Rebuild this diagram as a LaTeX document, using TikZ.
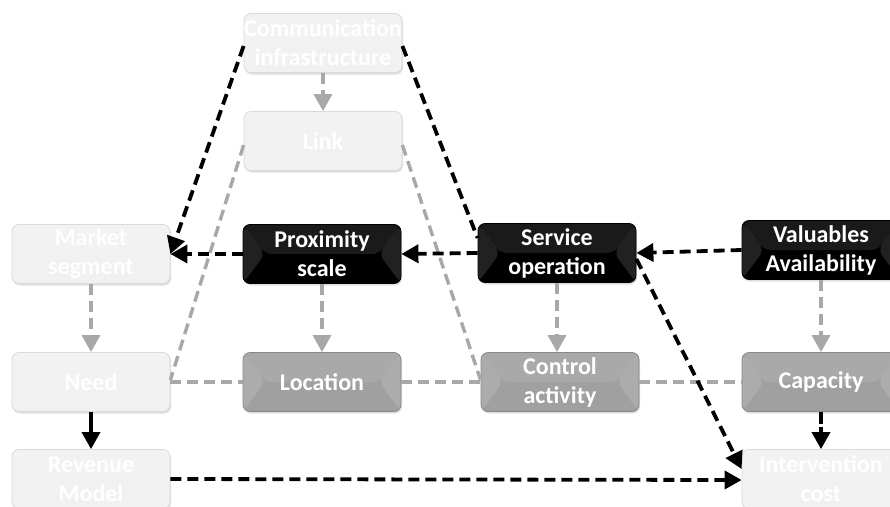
\documentclass[tikz,border=0pt]{standalone}
\usepackage{fontspec}
\setmainfont{Carlito}
\usetikzlibrary{arrows.meta,shadows}
\definecolor{lightfill}{HTML}{F1F1F1}
\definecolor{lightedge}{HTML}{DADADA}
\definecolor{midfill}{HTML}{A0A0A0}
\definecolor{midedge}{HTML}{888888}
\definecolor{grayline}{HTML}{A8A8A8}
\tikzset{
  box/.style={rounded corners=7pt, minimum width=158pt, minimum height=59pt,
    align=center, text=white, font=\bfseries\fontsize{24}{29}\selectfont,
    inner sep=0pt, line width=0.8pt,
    drop shadow={shadow xshift=1pt,shadow yshift=-2pt,opacity=0.25},
    path picture={
      \fill[white,opacity=.13] (path picture bounding box.north west) -- ([xshift=22pt]path picture bounding box.west) -- (path picture bounding box.south west) -- cycle;
      \fill[white,opacity=.13] (path picture bounding box.north east) -- ([xshift=-22pt]path picture bounding box.east) -- (path picture bounding box.south east) -- cycle;
      \fill[white,opacity=.10] (path picture bounding box.north west) -- ([xshift=22pt]path picture bounding box.west) -- ([xshift=-22pt]path picture bounding box.east) -- (path picture bounding box.north east) -- cycle;
    }},
  lightbox/.style={box, fill=lightfill, draw=lightedge},
  darkbox/.style={box, fill=black, draw=black},
  midbox/.style={box, fill=midfill, draw=midedge},
  blackdash/.style={line width=3.8pt, dash pattern=on 11pt off 6pt, draw=black},
  blackarrow/.style={blackdash, -{Triangle[length=17pt,width=18pt]}},
  graydash/.style={line width=3.4pt, dash pattern=on 11pt off 6pt, draw=grayline},
  grayarrow/.style={graydash, -{Triangle[length=17pt,width=18pt]}},
  solidarrow/.style={line width=3.6pt, draw=black, -{Triangle[length=17pt,width=18pt]}},
}
\begin{document}
\begin{tikzpicture}[x=1pt,y=-1pt]
\useasboundingbox (0,0) rectangle (890,506);
\clip (0,0) rectangle (890,506);
\fill[white] (0,0) rectangle (890,506);

% nodes
\node[lightbox] (comm) at (323,43) {Communication\\infrastructure};
\node[lightbox] (link) at (323,141) {Link};
\node[lightbox] (market) at (91,254) {Market\\segment};
\node[darkbox] (prox) at (322,254) {Proximity\\scale};
\node[darkbox] (serv) at (557,253) {Service\\operation};
\node[darkbox] (val) at (821,250) {Valuables\\Availability};
\node[lightbox] (need) at (91,382) {Need};
\node[midbox] (loc) at (322,382) {Location};
\node[midbox] (ctrl) at (560,382) {Control\\activity};
\node[midbox] (cap) at (821,382) {Capacity};
\node[lightbox] (rev) at (91,479) {Revenue\\Model};
\node[lightbox] (inter) at (821,479) {Intervention\\cost};

% gray connectors
\draw[grayarrow] (comm.south) -- (link.north);
\draw[graydash] ([yshift=-4pt]link.west) -- ([yshift=2pt]need.east);
\draw[graydash] ([yshift=-4pt]link.east) -- ([yshift=2pt]ctrl.west);
\draw[graydash] (need.east) -- (loc.west);
\draw[graydash] (loc.east) -- (ctrl.west);
\draw[graydash] (ctrl.east) -- (cap.west);
\draw[grayarrow] (market.south) -- (need.north);
\draw[grayarrow] (prox.south) -- (loc.north);
\draw[grayarrow] (serv.south) -- (serv.south|-ctrl.north);
\draw[grayarrow] (val.south) -- (cap.north);

% black connectors
\draw[blackarrow] ([yshift=-3pt]comm.west) -- (market.east);
\draw[blackdash] ([yshift=-3pt]comm.east) -- ([yshift=15pt]serv.west);
\draw[blackarrow] (prox.west) -- (market.east);
\draw[blackarrow] (serv.west) -- (prox.east);
\draw[blackarrow] (val.west) -- (serv.east);
\draw[blackarrow] ([yshift=-6pt]serv.east) -- ([yshift=10pt]inter.west);
\draw[blackarrow] (rev.east) -- ([yshift=-1pt]inter.west);
\draw[solidarrow] (need.south) -- (rev.north);
\draw[line width=3.6pt, dash pattern=on 12pt off 3pt, -{Triangle[length=17pt,width=18pt]}] (cap.south) -- (inter.north);
\end{tikzpicture}
\end{document}
